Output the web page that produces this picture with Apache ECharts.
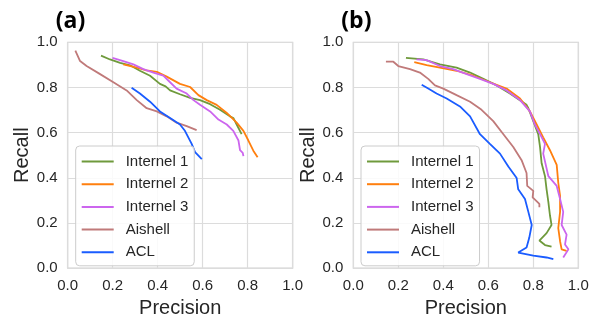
<!DOCTYPE html>
<html>
<head>
<meta charset="utf-8">
<script src="https://cdn.jsdelivr.net/npm/echarts@6/dist/echarts.min.js"></script>
<style>html,body{margin:0;padding:0;background:#fff}#c{width:597px;height:323px}</style>
</head>
<body>
<div id="c"></div>
<script>
var seriesNames = ['Internel 1', 'Internel 2', 'Internel 3', 'Aishell', 'ACL'];
var colors = ['#6f9a3c', '#ff7f0e', '#cc66ee', '#c07a7a', '#1a5cff'];
var tickValues = [0, 0.2, 0.4, 0.6, 0.8, 1.0];
var panelTitles = ['(a)', '(b)'];

// Panel (a): [precision, recall]
var aInternel1 = [[0.148,0.941],[0.188,0.924],[0.233,0.909],[0.277,0.898],[0.321,0.874],[0.366,0.852],[0.41,0.816],[0.435,0.805],[0.455,0.787],[0.499,0.770],[0.544,0.754],[0.588,0.744],[0.633,0.726],[0.677,0.701],[0.721,0.672],[0.736,0.665],[0.751,0.636],[0.773,0.593]];
var aInternel2 = [[0.247,0.902],[0.307,0.888],[0.350,0.876],[0.396,0.869],[0.44,0.848],[0.499,0.816],[0.544,0.802],[0.581,0.766],[0.618,0.744],[0.662,0.723],[0.707,0.687],[0.751,0.644],[0.781,0.608],[0.803,0.565],[0.825,0.520],[0.844,0.491]];
var aInternel3 = [[0.199,0.931],[0.247,0.917],[0.292,0.902],[0.336,0.881],[0.381,0.866],[0.425,0.852],[0.455,0.823],[0.484,0.795],[0.529,0.773],[0.559,0.744],[0.588,0.723],[0.633,0.694],[0.670,0.658],[0.707,0.636],[0.736,0.608],[0.759,0.565],[0.766,0.522],[0.778,0.510],[0.781,0.496]];
var aAishell = [[0.034,0.963],[0.055,0.917],[0.084,0.895],[0.144,0.859],[0.203,0.823],[0.262,0.787],[0.307,0.744],[0.351,0.708],[0.396,0.694],[0.44,0.672],[0.484,0.644],[0.529,0.629],[0.573,0.611]];
var aACL = [[0.284,0.799],[0.321,0.773],[0.366,0.737],[0.41,0.694],[0.455,0.665],[0.499,0.636],[0.521,0.608],[0.536,0.579],[0.551,0.550],[0.566,0.514],[0.596,0.483]];

// Panel (b): [precision, recall]
var bInternel1 = [[0.234,0.931],[0.311,0.924],[0.385,0.902],[0.459,0.888],[0.519,0.866],[0.578,0.838],[0.637,0.809],[0.696,0.773],[0.770,0.723],[0.778,0.708],[0.8,0.651],[0.822,0.593],[0.830,0.536],[0.837,0.464],[0.852,0.407],[0.859,0.349],[0.867,0.292],[0.874,0.234],[0.881,0.191],[0.859,0.155],[0.827,0.122],[0.852,0.102],[0.881,0.095]];
var bInternel2 = [[0.271,0.912],[0.326,0.899],[0.385,0.888],[0.459,0.874],[0.533,0.852],[0.607,0.823],[0.681,0.795],[0.741,0.751],[0.785,0.694],[0.815,0.636],[0.844,0.579],[0.874,0.522],[0.904,0.457],[0.911,0.378],[0.919,0.320],[0.919,0.249],[0.911,0.177],[0.919,0.119],[0.926,0.083],[0.948,0.076]];
var bInternel3 = [[0.281,0.924],[0.326,0.921],[0.385,0.895],[0.444,0.881],[0.504,0.859],[0.563,0.838],[0.622,0.816],[0.681,0.787],[0.741,0.744],[0.785,0.694],[0.807,0.636],[0.830,0.593],[0.852,0.550],[0.844,0.507],[0.867,0.407],[0.904,0.364],[0.919,0.306],[0.933,0.249],[0.926,0.191],[0.948,0.148],[0.941,0.105],[0.956,0.083],[0.933,0.047]];
var bAishell = [[0.145,0.914],[0.178,0.914],[0.2,0.895],[0.252,0.881],[0.296,0.866],[0.333,0.838],[0.363,0.809],[0.4,0.795],[0.459,0.766],[0.519,0.737],[0.570,0.701],[0.622,0.651],[0.667,0.593],[0.711,0.536],[0.748,0.478],[0.770,0.421],[0.773,0.364],[0.8,0.342],[0.797,0.313],[0.827,0.284],[0.827,0.27]];
var bACL = [[0.304,0.812],[0.333,0.795],[0.370,0.773],[0.415,0.751],[0.474,0.716],[0.519,0.672],[0.563,0.593],[0.607,0.550],[0.652,0.507],[0.689,0.450],[0.726,0.399],[0.733,0.349],[0.763,0.306],[0.778,0.249],[0.793,0.191],[0.782,0.134],[0.770,0.091],[0.733,0.069],[0.8,0.055],[0.859,0.047],[0.889,0.040]];

var panelData = [
  [aInternel1, aInternel2, aInternel3, aAishell, aACL],
  [bInternel1, bInternel2, bInternel3, bAishell, bACL]
];

var FONT = '"Liberation Sans", Arial, sans-serif';
var gridLefts = [67.7, 353.3];
var grids = [], xAxes = [], yAxes = [], series = [], legends = [], titles = [];

function axisCommon() {
  return {
    type: 'value', min: 0, max: 1, interval: 0.2,
    axisLine: {show: false}, axisTick: {show: false},
    splitLine: {show: true, lineStyle: {color: '#dcdcdc', width: 1.2}},
    axisLabel: {color: '#262626', fontSize: 15, fontFamily: FONT, formatter: function (v) { return v.toFixed(1); }},
    nameLocation: 'middle',
    nameTextStyle: {color: '#262626', fontSize: 20, fontFamily: FONT}
  };
}

for (var p = 0; p < 2; p++) {
  grids.push({left: gridLefts[p], top: 42.3, width: 225, height: 232, show: true, borderColor: '#d0d0d0', borderWidth: 1.2, backgroundColor: '#fff'});
  var xa = axisCommon();
  xa.gridIndex = p; xa.name = 'Precision'; xa.nameGap = 26; xa.axisLabel.margin = 10;
  xAxes.push(xa);
  var ya = axisCommon();
  ya.gridIndex = p; ya.name = 'Recall'; ya.nameGap = 34; ya.axisLabel.margin = 10;
  yAxes.push(ya);
  for (var s = 0; s < seriesNames.length; s++) {
    series.push({
      name: seriesNames[s], type: 'line', xAxisIndex: p, yAxisIndex: p,
      data: panelData[p][s], symbol: 'none', smooth: false,
      lineStyle: {color: colors[s], width: 1.8}, itemStyle: {color: colors[s]},
      z: 2
    });
  }
  legends.push({
    left: gridLefts[p] + (p === 0 ? 8 : 7.7), top: 146, orient: 'vertical',
    itemWidth: 32, itemHeight: 2, itemGap: 7.7, icon: 'rect',
    padding: [8, 6, 6, 6],
    backgroundColor: 'rgba(255,255,255,0.85)', borderColor: '#cccccc', borderWidth: 1, borderRadius: 4,
    textStyle: {fontSize: 15, lineHeight: 15, color: '#262626', fontFamily: FONT, padding: [0, 0, 0, 7]},
    data: seriesNames, selectedMode: false, z: 10
  });
  titles.push({
    text: panelTitles[p], left: gridLefts[p] - 17, top: 5,
    textStyle: {fontSize: 23, fontWeight: 'bold', color: '#000', fontFamily: '"Open Sans", sans-serif'}
  });
}

var chart = echarts.init(document.getElementById('c'), null, {renderer: 'canvas'});
chart.setOption({
  animation: false,
  backgroundColor: '#fff',
  title: titles,
  grid: grids, xAxis: xAxes, yAxis: yAxes,
  legend: legends,
  series: series
});
</script>
</body>
</html>
